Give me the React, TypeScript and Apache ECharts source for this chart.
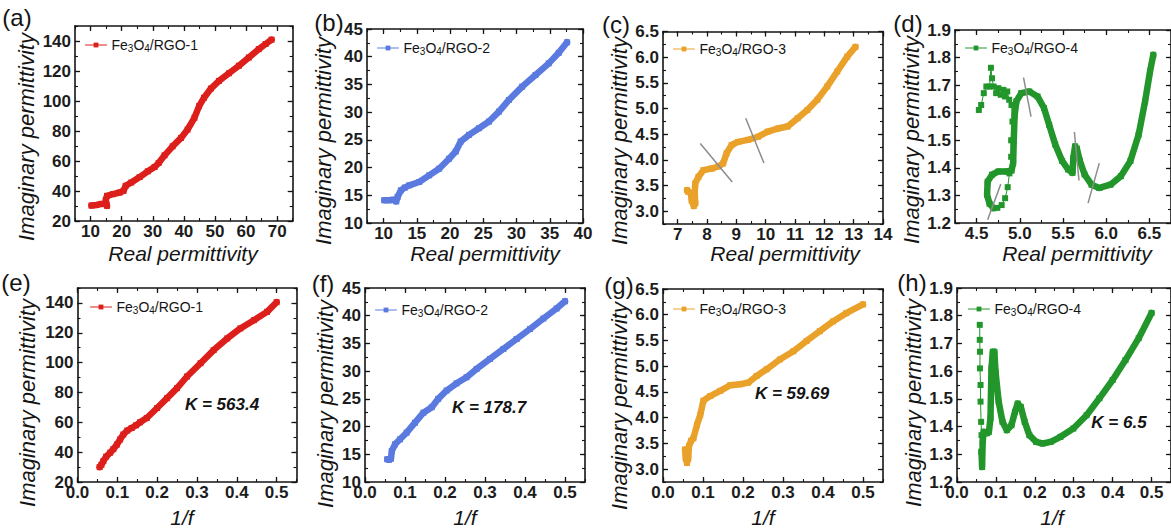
import React, { useEffect, useRef } from 'react';
import * as echarts from 'echarts';

const FONT = "'Liberation Sans', Arial, Helvetica, sans-serif";

// ---------- series names & colours ----------
const names = ['Fe3O4/RGO-1', 'Fe3O4/RGO-2', 'Fe3O4/RGO-3', 'Fe3O4/RGO-4'];
const colors = ['#dd1f1b', '#5a7ae0', '#eaa12a', '#22962a'];

// ---------- tick labels ----------
const xTicksA = [10, 20, 30, 40, 50, 60, 70];
const xTicksB = [10, 15, 20, 25, 30, 35, 40];
const xTicksC = [7, 8, 9, 10, 11, 12, 13, 14];
const xTicksD = [4.5, 5.0, 5.5, 6.0, 6.5];
const xTicksInvF = [0.0, 0.1, 0.2, 0.3, 0.4, 0.5];
const yTicks1 = [20, 40, 60, 80, 100, 120, 140];
const yTicks2 = [10, 15, 20, 25, 30, 35, 40, 45];
const yTicks3 = [3.0, 3.5, 4.0, 4.5, 5.0, 5.5, 6.0, 6.5];
const yTicks4 = [1.2, 1.3, 1.4, 1.5, 1.6, 1.7, 1.8, 1.9];

// ---------- (a)-(d): imaginary vs real permittivity ----------
const coleA = [
  [10.3, 30.3], [11.9, 30.7], [13.5, 31.4], [14.9, 31.4], [15.3, 30.1], [14.9, 34.1], [15.3, 36.8],
  [17.2, 37.9], [19.4, 39.0], [20.6, 40.1], [21.3, 43.5], [23.1, 45.7], [25.8, 49.3], [28.4, 53.1],
  [30.6, 56.0], [31.9, 58.7], [33.8, 63.8], [36.4, 69.8], [39.1, 75.4], [41.2, 81.0], [43.4, 88.8],
  [44.9, 96.6], [46.5, 102.2], [48.7, 108.3], [51.3, 113.4], [54.5, 118.5], [57.7, 123.5],
  [60.9, 129.0], [64.1, 134.6], [66.3, 138.0], [68.2, 140.9],
];
const coleB = [
  [10.1, 14.1], [10.8, 14.1], [11.5, 14.2], [11.9, 13.9], [12.1, 14.7], [12.6, 15.9], [13.2, 16.4],
  [13.85, 16.8], [15.35, 17.4], [16.85, 18.6], [18.35, 19.8], [19.85, 21.6], [20.85, 22.9],
  [21.6, 24.7], [22.85, 25.9], [24.35, 27.1], [25.85, 28.3], [27.35, 30.1], [28.85, 32.2],
  [30.85, 34.6], [32.85, 36.7], [34.85, 38.8], [36.35, 40.7], [37.6, 42.6],
];
const coleC = [
  [7.32, 3.41], [7.35, 3.38], [7.45, 3.35], [7.48, 3.2], [7.55, 3.1], [7.6, 3.15], [7.58, 3.35],
  [7.6, 3.54], [7.71, 3.67], [7.88, 3.8], [8.16, 3.83], [8.38, 3.87], [8.55, 3.93], [8.67, 4.13],
  [8.84, 4.29], [9.06, 4.35], [9.4, 4.39], [9.74, 4.45], [10.07, 4.55], [10.41, 4.61], [10.75, 4.65],
  [11.09, 4.81], [11.42, 4.97], [11.76, 5.17], [12.1, 5.43], [12.44, 5.72], [12.78, 6.01], [13.06, 6.2],
];
const coleDSparse = [
  [4.526, 1.61], [4.553, 1.628], [4.583, 1.671], [4.613, 1.695], [4.65, 1.695], [4.666, 1.763],
  [4.678, 1.725], [4.697, 1.695], [4.726, 1.671], [4.752, 1.689], [4.779, 1.665], [4.81, 1.683],
  [4.828, 1.659], [4.855, 1.677], [4.877, 1.647], [4.904, 1.628], [4.915, 1.568], [4.9, 1.5],
  [4.9, 1.44], [4.88, 1.38], [4.86, 1.33], [4.83, 1.29], [4.79, 1.265], [4.74, 1.255], [4.696, 1.254],
];
const coleD = [
  [4.696, 1.254], [4.65, 1.27], [4.621, 1.302], [4.628, 1.35], [4.678, 1.375], [4.753, 1.387],
  [4.847, 1.387], [4.904, 1.39], [4.923, 1.417], [4.93, 1.5], [4.94, 1.59], [4.96, 1.641],
  [5.017, 1.671], [5.11, 1.677], [5.205, 1.659], [5.28, 1.617], [5.34, 1.556], [5.41, 1.485],
  [5.49, 1.425], [5.56, 1.394], [5.61, 1.382], [5.62, 1.436], [5.64, 1.478], [5.66, 1.47],
  [5.696, 1.425], [5.75, 1.376], [5.83, 1.339], [5.92, 1.327], [6.05, 1.339], [6.17, 1.37],
  [6.28, 1.425], [6.375, 1.52], [6.45, 1.641], [6.507, 1.749], [6.545, 1.81],
];
// grey tangent guide segments
const tangentsC = [
  [[7.77, 4.32], [8.86, 3.57]],
  [[9.32, 4.81], [9.94, 3.94]],
];
const tangentsD = [
  [[4.628, 1.212], [4.78, 1.341]],
  [[5.043, 1.727], [5.13, 1.586]],
  [[5.632, 1.53], [5.685, 1.354]],
  [[5.79, 1.272], [5.92, 1.417]],
];

// ---------- (e)-(h): imaginary permittivity vs 1/f ----------
const invfE = [
  [0.0556, 30.0], [0.06, 31.5], [0.065, 34.0], [0.072, 37.0], [0.082, 39.6], [0.09, 42.0],
  [0.099, 45.1], [0.107, 48.5], [0.115, 51.8], [0.125, 54.5], [0.136, 56.2], [0.147, 58.0],
  [0.157, 60.0], [0.174, 62.9], [0.2, 69.6], [0.225, 76.2], [0.25, 82.9], [0.275, 90.7],
  [0.309, 99.6], [0.342, 108.4], [0.376, 116.2], [0.409, 122.9], [0.443, 128.4], [0.476, 134.0],
  [0.5, 140.5],
];
const invfF = [
  [0.0556, 14.1], [0.06, 14.0], [0.065, 14.2], [0.067, 15.6], [0.075, 16.8], [0.0875, 17.7],
  [0.104, 18.9], [0.125, 20.7], [0.146, 22.5], [0.167, 23.5], [0.183, 25.0], [0.204, 26.5],
  [0.229, 27.8], [0.254, 28.9], [0.279, 30.4], [0.3125, 32.2], [0.346, 34.0], [0.379, 35.8],
  [0.4125, 37.6], [0.446, 39.5], [0.479, 41.3], [0.5, 42.6],
];
const invfG = [
  [0.055, 3.38], [0.057, 3.2], [0.06, 3.12], [0.063, 3.2], [0.065, 3.45], [0.07, 3.55],
  [0.076, 3.6], [0.085, 3.86], [0.093, 4.05], [0.101, 4.33], [0.118, 4.42], [0.143, 4.52],
  [0.168, 4.63], [0.193, 4.65], [0.213, 4.68], [0.234, 4.81], [0.259, 4.94], [0.292, 5.13],
  [0.326, 5.29], [0.359, 5.49], [0.392, 5.68], [0.425, 5.87], [0.458, 6.03], [0.5, 6.2],
];
const invfHSparse = [
  [0.0585, 1.767], [0.0585, 1.713], [0.059, 1.67], [0.059, 1.61], [0.0605, 1.55], [0.0605, 1.49],
  [0.062, 1.417], [0.063, 1.369], [0.063, 1.309],
];
const invfH = [
  [0.063, 1.309], [0.0645, 1.254], [0.066, 1.345], [0.0685, 1.381], [0.0775, 1.376], [0.082, 1.381],
  [0.086, 1.43], [0.0886, 1.61], [0.092, 1.67], [0.096, 1.67], [0.099, 1.598], [0.107, 1.49],
  [0.117, 1.417], [0.128, 1.387], [0.14, 1.405], [0.149, 1.453], [0.156, 1.483], [0.164, 1.471],
  [0.174, 1.417], [0.186, 1.369], [0.203, 1.345], [0.22, 1.339], [0.241, 1.345], [0.266, 1.363],
  [0.299, 1.393], [0.333, 1.441], [0.366, 1.502], [0.4, 1.568], [0.433, 1.64], [0.467, 1.719],
  [0.5, 1.81],
];
const kLabels = ['K = 563.4', 'K = 178.7', 'K = 59.69', 'K = 6.5'];
const panelLetters = ['(a)', '(b)', '(c)', '(d)', '(e)', '(f)', '(g)', '(h)'];

// ---------- layout (pixels) ----------
const grids = [
  { left: 75, top: 26, width: 217.7, height: 195 },
  { left: 367, top: 29, width: 216, height: 194 },
  { left: 663, top: 31.5, width: 220, height: 192.5 },
  { left: 955, top: 30, width: 220, height: 193 },
  { left: 77.5, top: 288, width: 219, height: 194 },
  { left: 365, top: 288, width: 220, height: 194 },
  { left: 663, top: 289, width: 220, height: 193 },
  { left: 957, top: 288, width: 220, height: 194 },
];
const axesSpec = [
  { x: [5, 75, 5, xTicksA, 0], y: [20, 150, 10, yTicks1, 0] },
  { x: [7.5, 40, 2.5, xTicksB, 0], y: [10, 45, 2.5, yTicks2, 0] },
  { x: [6.5, 14, 0.5, xTicksC, 0], y: [2.75, 6.5, 0.25, yTicks3, 1] },
  { x: [4.25, 6.75, 0.25, xTicksD, 1], y: [1.2, 1.9, 0.05, yTicks4, 1] },
  { x: [0, 0.55, 0.05, xTicksInvF, 1], y: [20, 150, 10, yTicks1, 0] },
  { x: [0, 0.55, 0.05, xTicksInvF, 1], y: [10, 45, 2.5, yTicks2, 0] },
  { x: [0, 0.55, 0.05, xTicksInvF, 1], y: [2.75, 6.5, 0.25, yTicks3, 1] },
  { x: [0, 0.55, 0.05, xTicksInvF, 1], y: [1.2, 1.9, 0.05, yTicks4, 1] },
];
const legendPos = [
  [85, 45], [377, 48], [673, 49], [965, 48], [90, 307], [375, 310], [673, 309], [968, 309],
];
const letterPos = [
  [17, 17], [329, 22], [616, 24], [908, 23], [16, 282], [323, 283], [619, 285], [912, 282],
];
const yTitlePos = [
  [26, 137], [323, 141], [619, 141], [911, 140], [27, 403], [325, 404], [619, 406], [913, 403],
];
const xTitlePos = [
  [183, 253], [485, 253], [785, 253], [1077, 253], [182, 517], [465, 517], [763, 517], [1052, 517],
];
const kPos = [[222, 404], [489, 407], [792, 393], [1119, 422]];

const INK = '#141414';

function makeAxes(dim: 'x' | 'y', gi: number, spec: any[]) {
  const [min, max, minorStep, majors, dec] = spec;
  const main = dim === 'x' ? 'bottom' : 'left';
  const other = dim === 'x' ? 'top' : 'right';
  const base = {
    gridIndex: gi, type: 'value', min, max, splitLine: { show: false },
  };
  const lineOn = { show: true, onZero: false, lineStyle: { color: INK, width: 1.6 } };
  const lineOff = { show: false, onZero: false };
  const majorTick = { show: true, inside: true, length: 5, customValues: majors, lineStyle: { color: INK, width: 1.3 } };
  const minorTick = { show: true, inside: true, length: 3, lineStyle: { color: INK, width: 1.1 } };
  const label = {
    show: true,
    customValues: majors,
    formatter: (v: number) => Number(v).toFixed(dec),
    fontSize: 17,
    fontWeight: 'bold',
    fontFamily: FONT,
    color: '#1c1c1c',
    margin: dim === 'x' ? 2 : 4,
  };
  return [
    { ...base, position: main, axisLine: lineOn, axisTick: majorTick, axisLabel: label },
    { ...base, position: main, interval: minorStep, axisLine: lineOff, axisTick: minorTick, axisLabel: { show: false } },
    { ...base, position: other, axisLine: lineOn, axisTick: majorTick, axisLabel: { show: false } },
    { ...base, position: other, interval: minorStep, axisLine: lineOff, axisTick: minorTick, axisLabel: { show: false } },
  ];
}

function mainSeries(gi: number, k: number, data: number[][]) {
  return {
    type: 'line', name: names[k], xAxisIndex: gi * 4, yAxisIndex: gi * 4, data,
    symbol: 'rect', symbolSize: 6, showSymbol: true,
    lineStyle: { color: colors[k], width: 6.5, join: 'round', cap: 'round' },
    itemStyle: { color: colors[k] }, z: 3,
  };
}
function sparseSeries(gi: number, k: number, data: number[][]) {
  return {
    type: 'line', name: names[k], xAxisIndex: gi * 4, yAxisIndex: gi * 4, data,
    symbol: 'rect', symbolSize: 6, showSymbol: true,
    lineStyle: { color: colors[k], width: 1 },
    itemStyle: { color: colors[k] }, z: 3,
  };
}
function tangentSeries(gi: number, seg: number[][]) {
  return {
    type: 'line', xAxisIndex: gi * 4, yAxisIndex: gi * 4, data: seg, symbol: 'none', silent: true,
    lineStyle: { color: '#8c8c8c', width: 1.5 }, z: 5,
  };
}

function buildOption() {
  const xAxis: any[] = [];
  const yAxis: any[] = [];
  axesSpec.forEach((s, gi) => {
    xAxis.push(...makeAxes('x', gi, s.x));
    yAxis.push(...makeAxes('y', gi, s.y));
  });

  const series: any[] = [
    mainSeries(0, 0, coleA),
    mainSeries(1, 1, coleB),
    mainSeries(2, 2, coleC),
    mainSeries(3, 3, coleD),
    sparseSeries(3, 3, coleDSparse),
    mainSeries(4, 0, invfE),
    mainSeries(5, 1, invfF),
    mainSeries(6, 2, invfG),
    mainSeries(7, 3, invfH),
    sparseSeries(7, 3, invfHSparse),
    ...tangentsC.map((s) => tangentSeries(2, s)),
    ...tangentsD.map((s) => tangentSeries(3, s)),
  ];

  const legend = legendPos.map(([l, cy], i) => ({
    data: [names[i % 4]],
    left: l,
    top: cy - 8,
    padding: 0,
    itemWidth: 21,
    itemHeight: 6,
    selectedMode: false,
    lineStyle: { width: 1 },
    formatter: (n: string) => n.replace('Fe3O4', 'Fe{s|3}O{s|4}'),
    textStyle: {
      fontSize: 14, fontFamily: FONT, color: INK, lineHeight: 16,
      rich: { s: { fontSize: 10, fontFamily: FONT, color: INK, lineHeight: 8, verticalAlign: 'bottom' } },
    },
  }));

  const graphic: any[] = [];
  panelLetters.forEach((t, i) => {
    graphic.push({
      type: 'text', x: letterPos[i][0], y: letterPos[i][1],
      style: { text: t, fontSize: 24, fontFamily: FONT, fill: INK, align: 'center', verticalAlign: 'middle' },
    });
    graphic.push({
      type: 'text', x: yTitlePos[i][0], y: yTitlePos[i][1], rotation: Math.PI / 2,
      style: {
        text: 'Imaginary permittivity', fontSize: 22, fontStyle: 'italic', fontFamily: FONT, fill: INK,
        align: 'center', verticalAlign: 'middle',
      },
    });
    graphic.push({
      type: 'text', x: xTitlePos[i][0], y: xTitlePos[i][1],
      style: {
        text: i < 4 ? 'Real permittivity' : '1/f', fontSize: 21, fontStyle: 'italic', fontFamily: FONT,
        fill: INK, align: 'center', verticalAlign: 'middle',
      },
    });
  });
  kLabels.forEach((t, i) => {
    graphic.push({
      type: 'text', x: kPos[i][0], y: kPos[i][1],
      style: {
        text: t, fontSize: 17, fontStyle: 'italic', fontWeight: 'bold', fontFamily: FONT, fill: INK,
        align: 'center', verticalAlign: 'middle',
      },
    });
  });

  return {
    animation: false,
    backgroundColor: '#ffffff',
    grid: grids.map((g) => ({ ...g, containLabel: false })),
    xAxis,
    yAxis,
    legend,
    series,
    graphic,
  };
}

export default function App() {
  const ref = useRef<HTMLDivElement>(null);
  useEffect(() => {
    if (!ref.current) return;
    const chart = echarts.init(ref.current, null, { renderer: 'svg' });
    chart.setOption(buildOption() as any);
    return () => chart.dispose();
  }, []);
  return (
    <div
      ref={ref}
      style={{ position: 'absolute', left: 0, top: 0, width: 1171, height: 529, background: '#fff' }}
    />
  );
}
